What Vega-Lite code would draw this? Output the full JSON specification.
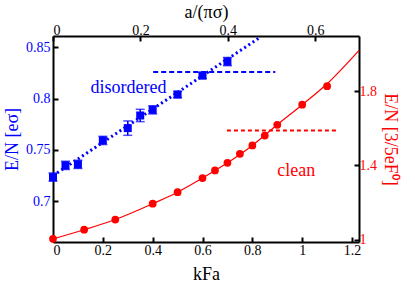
{
  "$schema": "https://vega.github.io/schema/vega-lite/v6.json",
  "width": 306,
  "height": 206,
  "autosize": {"type": "none"},
  "padding": {"left": 53, "top": 36, "right": 56, "bottom": 49},
  "config": {
    "font": "Liberation Serif",
    "view": {"stroke": null},
    "axis": {
      "domainColor": "black", "domainWidth": 2, "tickColor": "black", "tickWidth": 2, "tickSize": -5,
      "grid": false, "labelFontSize": 14, "titleFontSize": 18, "titleFontWeight": "normal",
      "labelColor": "black", "titleColor": "black", "labelFont": "Liberation Serif", "titleFont": "Liberation Serif"
    },
    "text": {"font": "Liberation Serif"}
  },
  "datasets": {
    "blue": [
      {"k": 0, "e": 0.7236, "err": 0.004},
      {"k": 0.05, "e": 0.735, "err": 0.004},
      {"k": 0.1, "e": 0.736, "err": 0.004},
      {"k": 0.2, "e": 0.7593, "err": 0.004},
      {"k": 0.3, "e": 0.7713, "err": 0.007},
      {"k": 0.35, "e": 0.7836, "err": 0.006},
      {"k": 0.4, "e": 0.7891, "err": 0.004},
      {"k": 0.5, "e": 0.804, "err": 0.003},
      {"k": 0.6, "e": 0.8225, "err": 0.003},
      {"k": 0.7, "e": 0.8361, "err": 0.004}
    ],
    "bfit": [{"k": 0, "e": 0.725}, {"k": 0.831, "e": 0.8597}],
    "bdash": [{"k": 0.402, "e": 0.826}, {"k": 0.892, "e": 0.826}],
    "blabel": [{"k": 0.303, "e": 0.81, "text": "disordered"}],
    "red": [
      {"k": 0, "e": 1.005},
      {"k": 0.125, "e": 1.054},
      {"k": 0.25, "e": 1.109},
      {"k": 0.4, "e": 1.194},
      {"k": 0.5, "e": 1.256},
      {"k": 0.6, "e": 1.332},
      {"k": 0.65, "e": 1.373},
      {"k": 0.7, "e": 1.414},
      {"k": 0.75, "e": 1.463},
      {"k": 0.8, "e": 1.508},
      {"k": 0.85, "e": 1.561},
      {"k": 0.9, "e": 1.619},
      {"k": 1.0, "e": 1.727},
      {"k": 1.1, "e": 1.827}
    ],
    "rcurve": [
      {"k": 0, "e": 1.005},
      {"k": 0.125, "e": 1.054},
      {"k": 0.25, "e": 1.109},
      {"k": 0.4, "e": 1.194},
      {"k": 0.5, "e": 1.256},
      {"k": 0.6, "e": 1.332},
      {"k": 0.7, "e": 1.414},
      {"k": 0.8, "e": 1.508},
      {"k": 0.9, "e": 1.619},
      {"k": 1.0, "e": 1.727},
      {"k": 1.1, "e": 1.84},
      {"k": 1.228, "e": 2.02}
    ],
    "rdash": [{"k": 0.698, "e": 1.588}, {"k": 1.139, "e": 1.588}],
    "rlabel": [{"k": 0.976, "e": 1.368, "text": "clean"}],
    "top": [{"t": 0}, {"t": 0.7}]
  },
  "resolve": {"scale": {"x": "independent", "y": "independent"}},
  "layer": [
    {
      "layer": [
        {
          "data": {"name": "bfit"},
          "mark": {"type": "line", "color": "#0000ff", "strokeWidth": 3, "strokeDash": [2, 3]},
          "encoding": {
            "x": {"field": "k", "type": "quantitative", "title": "kFa",
              "scale": {"domain": [0, 1.228], "nice": false, "zero": false},
              "axis": {"orient": "bottom", "values": [0, 0.2, 0.4, 0.6, 0.8, 1, 1.2], "format": "~g", "labelPadding": 6, "titlePadding": 8}},
            "y": {"field": "e", "type": "quantitative", "title": "E/N [eσ]",
              "scale": {"domain": [0.6604, 0.861], "nice": false, "zero": false},
              "axis": {"orient": "left", "values": [0.7, 0.75, 0.8, 0.85], "format": "~g", "labelColor": "#0000ff", "titleColor": "#0000ff", "labelPadding": 8, "titlePadding": 4}}
          }
        },
        {
          "data": {"name": "bdash"},
          "mark": {"type": "line", "color": "#0000ff", "strokeWidth": 2, "strokeDash": [5, 3]},
          "encoding": {
            "x": {"field": "k", "type": "quantitative", "title": "kFa"},
            "y": {"field": "e", "type": "quantitative", "title": "E/N [eσ]"}
          }
        },
        {
          "data": {"name": "blue"},
          "mark": {"type": "errorbar", "ticks": {"size": 9, "color": "#0000ff", "thickness": 1.5}, "rule": {"color": "#0000ff", "strokeWidth": 1.5}},
          "encoding": {
            "x": {"field": "k", "type": "quantitative", "title": "kFa"},
            "y": {"field": "e", "type": "quantitative", "title": "E/N [eσ]"},
            "yError": {"field": "err"}
          }
        },
        {
          "data": {"name": "blue"},
          "mark": {"type": "point", "shape": "square", "filled": true, "size": 64, "color": "#0000ff", "opacity": 1},
          "encoding": {
            "x": {"field": "k", "type": "quantitative", "title": "kFa"},
            "y": {"field": "e", "type": "quantitative", "title": "E/N [eσ]"}
          }
        },
        {
          "data": {"name": "blabel"},
          "mark": {"type": "text", "color": "#0000ff", "fontSize": 18, "align": "center", "baseline": "middle", "font": "Liberation Serif"},
          "encoding": {
            "x": {"field": "k", "type": "quantitative", "title": "kFa"},
            "y": {"field": "e", "type": "quantitative", "title": "E/N [eσ]"},
            "text": {"field": "text"}
          }
        }
      ]
    },
    {
      "layer": [
        {
          "data": {"name": "rcurve"},
          "mark": {"type": "line", "color": "#ff0000", "strokeWidth": 1.2, "interpolate": "monotone", "clip": true},
          "encoding": {
            "x": {"field": "k", "type": "quantitative",
              "scale": {"domain": [0, 1.228], "nice": false, "zero": false}, "axis": null},
            "y": {"field": "e", "type": "quantitative", "title": "E/N [3/5eF⁰]",
              "scale": {"domain": [0.988, 2.097], "nice": false, "zero": false},
              "axis": {"orient": "right", "values": [1, 1.4, 1.8], "format": "~g", "labelColor": "#ff0000", "titleColor": "#ff0000", "labelPadding": 5, "titlePadding": 4}}
          }
        },
        {
          "data": {"name": "rdash"},
          "mark": {"type": "line", "color": "#ff0000", "strokeWidth": 2, "strokeDash": [4, 3]},
          "encoding": {
            "x": {"field": "k", "type": "quantitative"},
            "y": {"field": "e", "type": "quantitative", "title": "E/N [3/5eF⁰]"}
          }
        },
        {
          "data": {"name": "red"},
          "mark": {"type": "circle", "size": 60, "color": "#ff0000", "opacity": 1},
          "encoding": {
            "x": {"field": "k", "type": "quantitative"},
            "y": {"field": "e", "type": "quantitative", "title": "E/N [3/5eF⁰]"}
          }
        },
        {
          "data": {"name": "rlabel"},
          "mark": {"type": "text", "color": "#ff0000", "fontSize": 18, "align": "center", "baseline": "middle", "font": "Liberation Serif"},
          "encoding": {
            "x": {"field": "k", "type": "quantitative"},
            "y": {"field": "e", "type": "quantitative", "title": "E/N [3/5eF⁰]"},
            "text": {"field": "text"}
          }
        }
      ]
    },
    {
      "data": {"name": "top"},
      "mark": {"type": "point", "opacity": 0},
      "encoding": {
        "x": {"field": "t", "type": "quantitative", "title": "a/(πσ)",
          "scale": {"domain": [0, 0.7], "nice": false, "zero": false},
          "axis": {"orient": "top", "values": [0, 0.2, 0.4, 0.6], "format": "~g", "labelPadding": 4, "titlePadding": 2}}
      }
    }
  ]
}
